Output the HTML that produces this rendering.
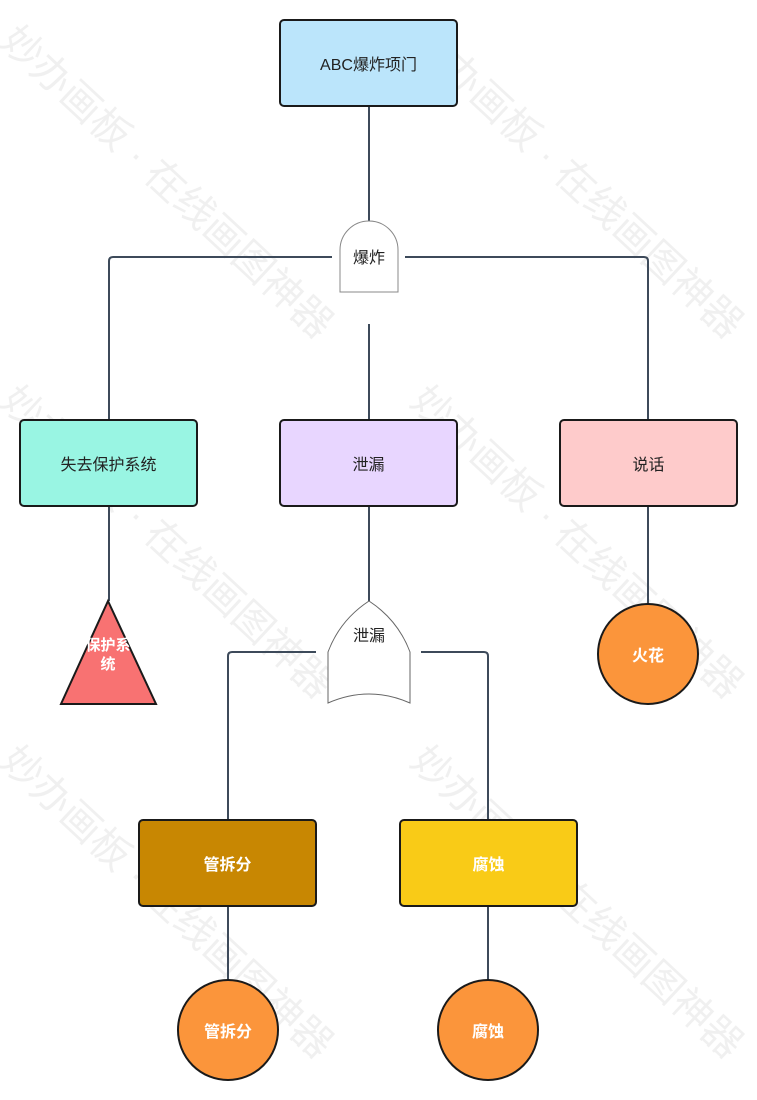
<!DOCTYPE html>
<html><head><meta charset="utf-8"><style>
body{margin:0;width:757px;height:1100px;background:#fff;position:relative;overflow:hidden;font-family:"Liberation Sans","Noto Sans CJK SC",sans-serif}
.b{position:absolute;box-sizing:border-box;border:2px solid #1a1a1a;border-radius:5px;display:flex;align-items:center;justify-content:center;font-size:16px;color:#222}
.c{position:absolute;box-sizing:border-box;border:2px solid #1a1a1a;border-radius:50%;background:#fb953b;color:#fff;font-weight:bold;display:flex;align-items:center;justify-content:center;font-size:16px}
.w{position:absolute;font-size:40px;color:rgba(0,0,0,0.06);transform:rotate(43deg);transform-origin:left top;white-space:nowrap}
</style></head><body>
<div class="w" style="left:30px;top:10px">妙办画板 · 在线画图神器</div>
<div class="w" style="left:440px;top:10px">妙办画板 · 在线画图神器</div>
<div class="w" style="left:30px;top:370px">妙办画板 · 在线画图神器</div>
<div class="w" style="left:440px;top:370px">妙办画板 · 在线画图神器</div>
<div class="w" style="left:30px;top:730px">妙办画板 · 在线画图神器</div>
<div class="w" style="left:440px;top:730px">妙办画板 · 在线画图神器</div>
<svg width="757" height="1100" style="position:absolute;left:0;top:0" fill="none">
<g stroke="#3d4a5a" stroke-width="2">
<path d="M369 105V221M332 257H113Q109 257 109 261V420M405 257H644Q648 257 648 261V420M369 324V420M109 506V601M369 506V601M316 652H232Q228 652 228 656V820M421 652H484Q488 652 488 656V820M648 506V604M228 906V980M488 906V980"/>
</g>
<path d="M340 292V250A29 29 0 0 1 398 250V292Z" fill="#fff" stroke="#888" stroke-width="1"/>
<path d="M328 703V652Q340 620 369 601Q398 620 410 652V703Q369 685 328 703Z" fill="#fff" stroke="#666" stroke-width="1"/>
<path d="M108 601L156 704H61Z" fill="#f87272" stroke="#1a1a1a" stroke-width="2"/>
<text x="369" y="263" font-size="16" fill="#222" text-anchor="middle" font-family="Liberation Sans,Noto Sans CJK SC,sans-serif">爆炸</text>
<text x="369" y="641" font-size="16" fill="#222" text-anchor="middle" font-family="Liberation Sans,Noto Sans CJK SC,sans-serif">泄漏</text>
<text x="108" y="650" font-size="15" fill="#fff" font-weight="bold" text-anchor="middle" font-family="Liberation Sans,Noto Sans CJK SC,sans-serif">保护系</text>
<text x="108" y="669" font-size="15" fill="#fff" font-weight="bold" text-anchor="middle" font-family="Liberation Sans,Noto Sans CJK SC,sans-serif">统</text>
</svg>
<div class="b" style="left:279px;top:19px;width:179px;height:88px;background:#bbe5fb">ABC爆炸项门</div>
<div class="b" style="left:19px;top:419px;width:179px;height:88px;background:#99f5e3">失去保护系统</div>
<div class="b" style="left:279px;top:419px;width:179px;height:88px;background:#e8d6ff">泄漏</div>
<div class="b" style="left:559px;top:419px;width:179px;height:88px;background:#fecbcb">说话</div>
<div class="b" style="left:138px;top:819px;width:179px;height:88px;background:#c88702;color:#fff;font-weight:bold">管拆分</div>
<div class="b" style="left:399px;top:819px;width:179px;height:88px;background:#f9cb17;color:#fff;font-weight:bold">腐蚀</div>
<div class="c" style="left:597px;top:603px;width:102px;height:102px">火花</div>
<div class="c" style="left:177px;top:979px;width:102px;height:102px">管拆分</div>
<div class="c" style="left:437px;top:979px;width:102px;height:102px">腐蚀</div>
</body></html>
